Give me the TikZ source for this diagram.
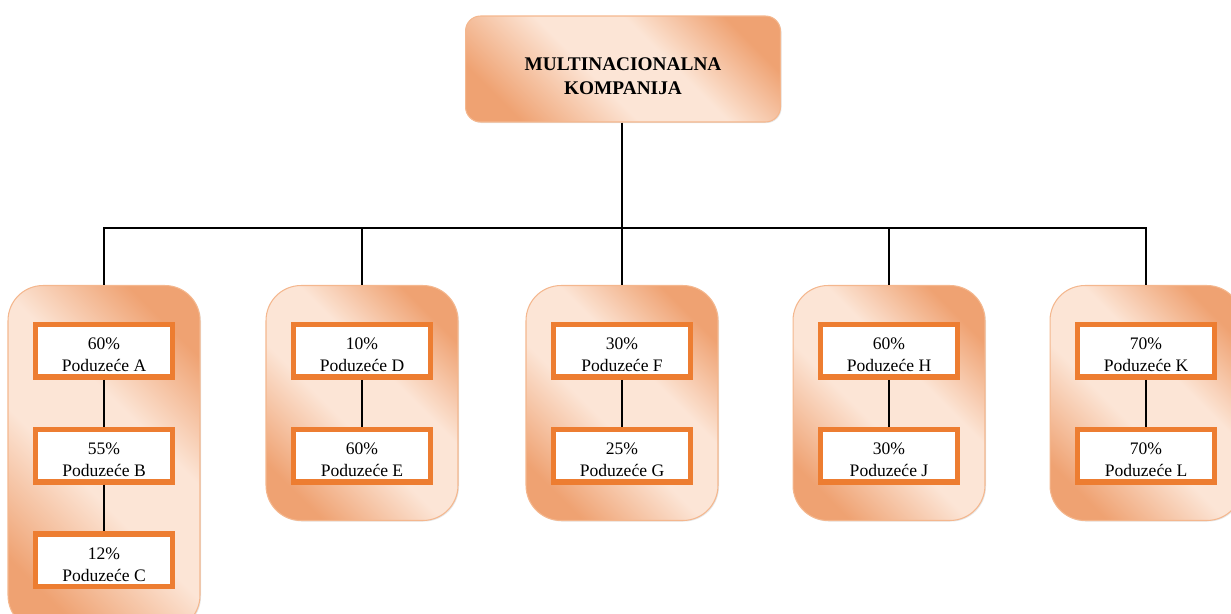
\documentclass[tikz,border=0pt]{standalone}
\usepackage{fontspec}
\setmainfont{Liberation Serif}
\usetikzlibrary{positioning,shadows}
\definecolor{orangedark}{HTML}{EFA272}
\definecolor{orangelight}{HTML}{FCE5D6}
\definecolor{orangeline}{HTML}{F4B78E}
\definecolor{orangebox}{HTML}{ED7D31}
\pgfdeclarehorizontalshading{peach}{100bp}{color(0bp)=(orangedark); color(24bp)=(orangedark); color(44bp)=(orangelight); color(59bp)=(orangelight); color(76bp)=(orangedark); color(100bp)=(orangedark)}
\newcommand{\twolines}[3][0pt]{\raisebox{#1}[\height][\depth]{\begin{tabular}{@{}c@{}}#2\\#3\end{tabular}}}
\begin{document}
\begin{tikzpicture}[x=0.02cm, y=-0.02cm, thick, font=\fontsize{10}{12.5}\selectfont,
  shade/.style = {draw=orangeline, semithick, shading=peach, shading angle=45,
    drop shadow={opacity=0.2, shadow xshift=0.6pt, shadow yshift=-0.6pt}},
  head/.style = {shade, rounded corners=0.3cm, minimum width=6.3cm, minimum height=2.12cm, align=center, font=\fontsize{11}{13.5}\selectfont\bfseries},
  group/.style = {shade, rounded corners=0.7cm, anchor=north, minimum width=3.84cm, minimum height=4.7cm},
  firm/.style = {draw=orangebox, line width=3pt, fill=white, minimum width=2.74cm, minimum height=1.05cm, inner sep=0pt, align=center},
  link/.style = {black, semithick}]
  \useasboundingbox (0,0) rectangle (1231,614);
  \clip (0,0) rectangle (1231,614);
  \node[head] (mnc) at (623,69) {\twolines[-5pt]{MULTINACIONALNA}{KOMPANIJA}};
  \coordinate (bus) at (622,228);
  \node[group, minimum height=6.9cm] (g1) at (104,285) {};
  \node[group] (g2) at (362,285) {};
  \node[group] (g3) at (622,285) {};
  \node[group] (g4) at (889,285) {};
  \node[group] (g5) at (1146,285) {};
  \node[firm] (a) [below=0.74cm of g1.north] {\twolines[-3pt]{60\%}{Poduzeće A}};
  \node[firm] (b) [below=0.94cm of a] {\twolines[-3pt]{55\%}{Poduzeće B}};
  \node[firm] (c) [below=0.94cm of b] {\twolines[-3pt]{12\%}{Poduzeće C}};
  \node[firm] (d) [below=0.74cm of g2.north] {\twolines[-3pt]{10\%}{Poduzeće D}};
  \node[firm] (e) [below=0.94cm of d] {\twolines[-3pt]{60\%}{Poduzeće E}};
  \node[firm] (f) [below=0.74cm of g3.north] {\twolines[-3pt]{30\%}{Poduzeće F}};
  \node[firm] (g) [below=0.94cm of f] {\twolines[-3pt]{25\%}{Poduzeće G}};
  \node[firm] (h) [below=0.74cm of g4.north] {\twolines[-3pt]{60\%}{Poduzeće H}};
  \node[firm] (j) [below=0.94cm of h] {\twolines[-3pt]{30\%}{Poduzeće J}};
  \node[firm] (k) [below=0.74cm of g5.north] {\twolines[-3pt]{70\%}{Poduzeće K}};
  \node[firm] (l) [below=0.94cm of k] {\twolines[-3pt]{70\%}{Poduzeće L}};
  \draw (mnc.south -| bus) -- (bus);
  \draw (g1.north) |- (bus) -| (g5.north);
  \draw (g2.north) -- (g2.north |- bus);
  \draw (g3.north) -- (bus);
  \draw (g4.north) -- (g4.north |- bus);
  \draw[link] (a) -- (b);
  \draw[link] (b) -- (c);
  \draw[link] (d) -- (e);
  \draw[link] (f) -- (g);
  \draw[link] (h) -- (j);
  \draw[link] (k) -- (l);
\end{tikzpicture}
\end{document}
